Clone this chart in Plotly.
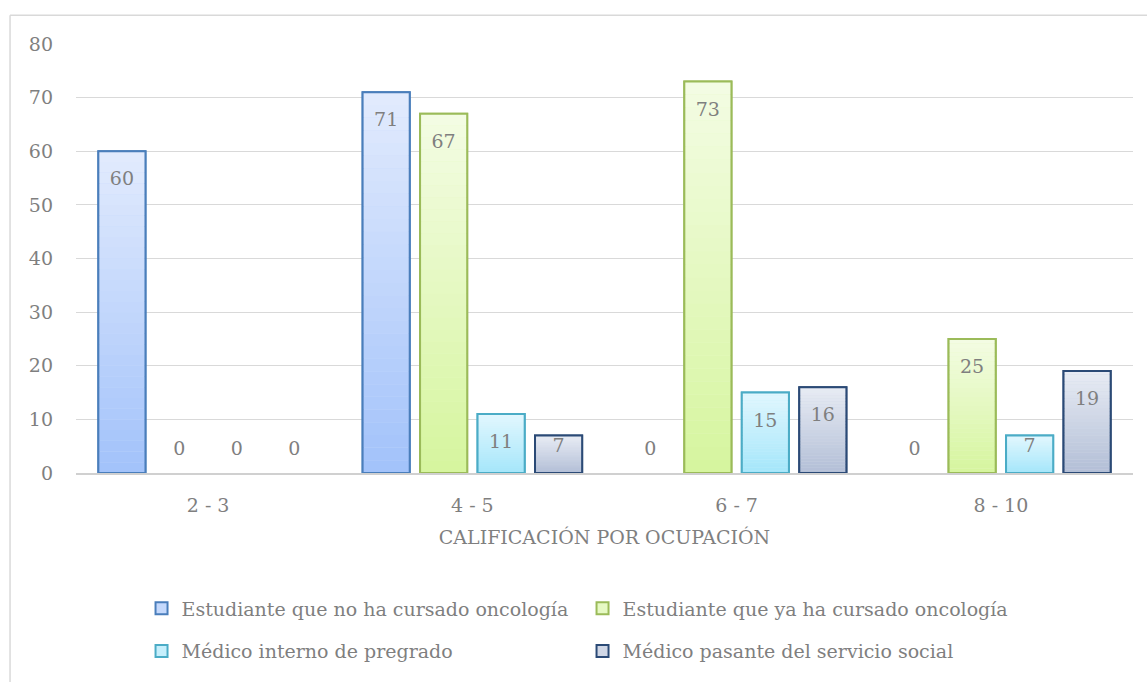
import plotly.graph_objects as go

# Data
categories = ["2 - 3", "4 - 5", "6 - 7", "8 - 10"]
series_names = [
    "Estudiante que no ha cursado oncología",
    "Estudiante que ya ha cursado oncología",
    "Médico interno de pregrado",
    "Médico pasante del servicio social",
]
no_oncologia = [60, 71, 0, 0]
ya_oncologia = [0, 67, 73, 25]
interno = [0, 11, 15, 7]
pasante = [0, 7, 16, 19]
series_values = [no_oncologia, ya_oncologia, interno, pasante]

# Styling: (gradient bottom, gradient top, outline)
styles = [
    ((162, 194, 250), (226, 235, 253), "#4a7ebb"),
    ((214, 245, 158), (243, 252, 228), "#9bbb59"),
    ((164, 230, 250), (226, 247, 254), "#4bacc6"),
    ((178, 190, 214), (232, 236, 244), "#2b4a76"),
]
FONT = "DejaVu Serif"
GREY = "#7f7f7f"
N_STEPS = 30
LEGEND_OF = ["legend", "legend", "legend2", "legend2"]


def mix(c0, c1, t):
    return "rgb(%d,%d,%d)" % tuple(round(a + (b - a) * t) for a, b in zip(c0, c1))


fig = go.Figure()

for k, (name, vals) in enumerate(zip(series_names, series_values)):
    bottom, top, edge = styles[k]
    grp = "g%d" % k
    shown = [v if v > 0 else None for v in vals]  # zero bars have no outline
    # full-height bar carrying the legend swatch
    fig.add_trace(go.Bar(
        x=categories, y=shown, name=name, offsetgroup=grp, legend=LEGEND_OF[k],
        marker=dict(color=mix(bottom, top, 0.55), line=dict(color=edge, width=2)),
        hoverinfo="skip",
    ))
    # vertical gradient built from horizontal slices of each bar
    for i in range(N_STEPS):
        fig.add_trace(go.Bar(
            x=categories, y=[v / N_STEPS for v in vals],
            base=[v * i / N_STEPS for v in vals],
            offsetgroup=grp, showlegend=False, hoverinfo="skip",
            marker=dict(color=mix(bottom, top, (i + 0.5) / N_STEPS), line=dict(width=0)),
        ))
    # outline on top
    fig.add_trace(go.Bar(
        x=categories, y=shown, offsetgroup=grp, showlegend=False,
        marker=dict(color="rgba(0,0,0,0)", line=dict(color=edge, width=2)),
        hovertemplate="%{x}: %{y}<extra>" + name + "</extra>",
    ))

# value labels aligned with the bars
for k, vals in enumerate(series_values):
    fig.add_trace(go.Scatter(
        x=categories, y=vals, offsetgroup="g%d" % k,
        mode="markers+text", text=[str(v) for v in vals],
        textposition=["top center" if v == 0 else "bottom center" for v in vals],
        marker=dict(size=[30 if v >= 10 else (20 if v == 0 else 2) for v in vals], opacity=0),
        textfont=dict(family=FONT, size=19, color=GREY),
        showlegend=False, hoverinfo="skip", cliponaxis=False,
    ))

legend_style = dict(
    orientation="h", x=0.062, xanchor="left", yanchor="middle",
    entrywidth=396, entrywidthmode="pixels", traceorder="normal",
    font=dict(family=FONT, size=19, color=GREY), bgcolor="rgba(0,0,0,0)",
)

fig.update_layout(
    width=1147, height=682,
    margin=dict(l=76, r=14, t=44, b=207),
    paper_bgcolor="white", plot_bgcolor="white",
    barmode="group", bargap=0.13, bargroupgap=0.18,
    scattermode="group", scattergap=0.13,
    font=dict(family=FONT, color=GREY, size=18),
    xaxis=dict(
        type="category", showgrid=False, showline=True, linecolor="#d0d0d0", linewidth=1.5,
        ticks="", tickfont=dict(family=FONT, size=19, color=GREY), ticklabelstandoff=14,
        title=dict(text="CALIFICACIÓN POR OCUPACIÓN", font=dict(family=FONT, size=19, color=GREY), standoff=16),
    ),
    yaxis=dict(
        range=[0, 80], dtick=10, showgrid=True, gridcolor="#d9d9d9", gridwidth=1,
        zeroline=False, showline=False, ticks="",
        tickfont=dict(family=FONT, size=19, color=GREY), ticklabelstandoff=22,
    ),
    legend=dict(legend_style, y=(475 - 611) / 431),
    legend2=dict(legend_style, y=(475 - 654) / 431),
    shapes=[
        dict(type="line", xref="paper", yref="paper", x0=-0.0624, x1=1.1, y0=1.067, y1=1.067,
             line=dict(color="#d9d9d9", width=1.5)),
        dict(type="line", xref="paper", yref="paper", x0=-0.0624, x1=-0.0624, y0=1.067, y1=-0.6,
             line=dict(color="#d9d9d9", width=1.5)),
    ],
)

fig.write_html("out.html")
